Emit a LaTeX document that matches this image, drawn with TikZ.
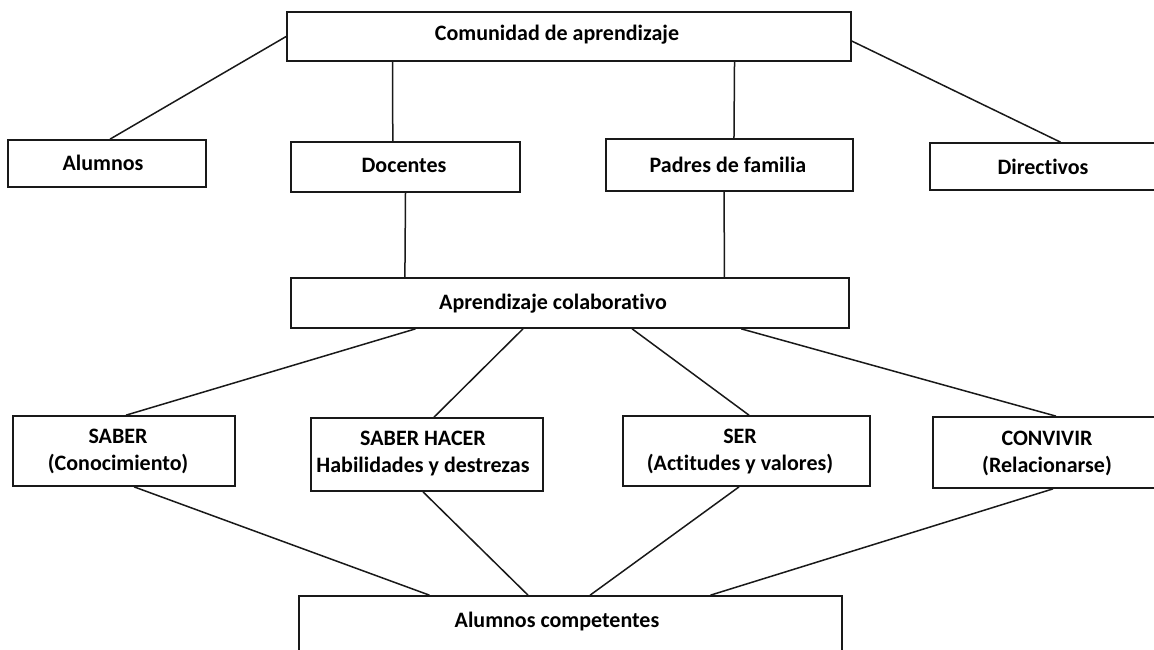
\documentclass[tikz,border=0pt]{standalone}
\usepackage{fontspec}
\setmainfont{Carlito}[Ligatures={NoCommon}]
\usetikzlibrary{calc,fit}
\begin{document}
\begin{tikzpicture}[x=1pt,y=-1pt,
  box/.style={draw=black!90,line width=1.7pt,rectangle,inner sep=0pt},
  lbl/.style={font=\fontsize{22}{27}\selectfont\bfseries,align=center,inner sep=0pt},
  conn/.style={draw=black!90,line width=1.5pt}]
\useasboundingbox (0,0) rectangle (1154,649);
\clip (0,0) rectangle (1154,649);
\fill[white] (0,0) rectangle (1154,649);
% boxes
\node[box,fit={(287,12) (851,61)}] (top) {};
\node[box,fit={(8,140) (206,187)}] (alum) {};
\node[box,fit={(291,142) (520,192)}] (doc) {};
\node[box,fit={(606,139) (853,191)}] (pad) {};
\node[box,fit={(930,143) (1162,190)}] (dir) {};
\node[box,fit={(291,278) (849,328)}] (apr) {};
\node[box,fit={(13,416) (235,486)}] (saber) {};
\node[box,fit={(311,418) (543,491)}] (hacer) {};
\node[box,fit={(623,416) (870,486)}] (ser) {};
\node[box,fit={(933,417) (1162,488)}] (conv) {};
\node[box,fit={(299,596) (842,665)}] (comp) {};
% labels
\node[lbl] (ttop) at (557,35) {Comunidad de aprendizaje};
\node[lbl] (talum) at (103,163) {Alumnos};
\node[lbl] (tdoc) at (404,165) {Docentes};
\node[lbl] (tpad) at (728,165) {Padres de familia};
\node[lbl] (tdir) at (1043,167) {Directivos};
\node[lbl] (tapr) at (553,304) {Aprendizaje colaborativo};
\node[lbl] (tsaber) at (118,451) {SABER\\(Conocimiento)};
\node[lbl] (thacer) at (423,454) {SABER HACER\\Habilidades y destrezas};
\node[lbl] (tser) at (740,452) {SER\\(Actitudes y valores)};
\node[lbl] (tconv) at (1047,453) {CONVIVIR\\(Relacionarse)};
\node[lbl] (tcomp) at (557,621) {Alumnos competentes};
% connectors
\draw[conn] (top.west) -- ($(alum.north west)!0.515!(alum.north east)$);
\draw[conn] ($(top.south west)!0.188!(top.south east)$) -- ($(doc.north west)!0.445!(doc.north east)$);
\draw[conn] ($(top.south west)!0.7926!(top.south east)$) -- ($(pad.north west)!0.518!(pad.north east)$);
\draw[conn] ($(top.north east)!0.59!(top.south east)$) -- ($(dir.north west)!0.562!(dir.north east)$);
\draw[conn] (doc.south) -- ($(apr.north west)!0.205!(apr.north east)$);
\draw[conn] ($(pad.south west)!0.478!(pad.south east)$) -- ($(apr.north west)!0.776!(apr.north east)$);
\draw[conn] ($(apr.south west)!0.224!(apr.south east)$) -- ($(saber.north west)!0.509!(saber.north east)$);
\draw[conn] ($(apr.south west)!0.416!(apr.south east)$) -- ($(hacer.north west)!0.53!(hacer.north east)$);
\draw[conn] ($(apr.south west)!0.611!(apr.south east)$) -- ($(ser.north west)!0.51!(ser.north east)$);
\draw[conn] ($(apr.south west)!0.806!(apr.south east)$) -- ($(conv.north west)!0.537!(conv.north east)$);
\draw[conn] ($(saber.south west)!0.545!(saber.south east)$) -- ($(comp.north west)!0.241!(comp.north east)$);
\draw[conn] ($(hacer.south west)!0.483!(hacer.south east)$) -- ($(comp.north west)!0.422!(comp.north east)$);
\draw[conn] ($(ser.south west)!0.47!(ser.south east)$) -- ($(comp.north west)!0.536!(comp.north east)$);
\draw[conn] ($(conv.south west)!0.524!(conv.south east)$) -- ($(comp.north west)!0.757!(comp.north east)$);
\end{tikzpicture}
\end{document}
